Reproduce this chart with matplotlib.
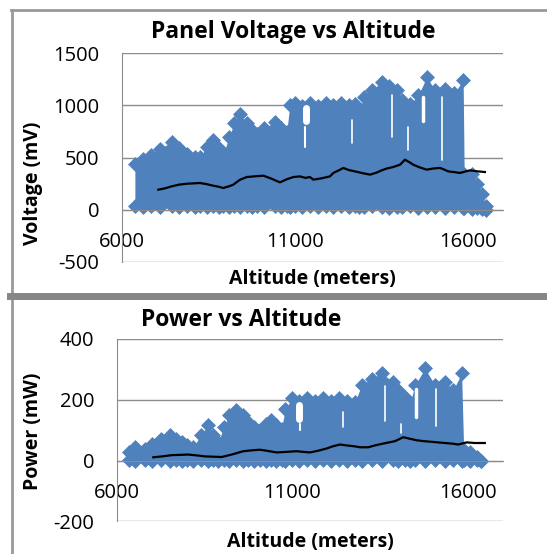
import numpy as np
import matplotlib.pyplot as plt
from matplotlib.lines import Line2D

plt.rcParams['font.family'] = ['Open Sans', 'DejaVu Sans']
plt.rcParams['axes.unicode_minus'] = False

BLUE = '#4f81bd'
GRID = '#8c8c8c'

# voltage scatter, read as the outline of the point cloud (marker centres)
v_alt = [6380, 6620, 6850, 7100, 7440, 7650, 7880, 8100, 8260, 8450, 8640, 8800, 8930,
         9100, 9250, 9410, 9600, 9750, 9900, 10100, 10420, 10600, 10760, 10850, 11000,
         11200, 11430, 11650, 11880, 12100, 12330, 12560, 12730, 12850, 13000, 13210,
         13500, 13700, 13930, 14080, 14320, 14555, 14800, 15040, 15330, 15600, 15850,
         15880, 16100, 16250, 16400, 16500]
v_hi = [440, 485, 520, 585, 647, 590, 530, 505, 505, 600, 663, 590, 530, 700, 830, 918,
        830, 760, 727, 780, 840, 780, 745, 1000, 1020, 995, 1020, 995, 1020, 1000, 1020,
        1000, 1010, 960, 1080, 1143, 1222, 1180, 1143, 1047, 1010, 1095, 1270, 1143, 1158,
        1120, 1239, 343, 343, 250, 150, 40]
v_lo = [40, 30, 35, 30, 40, 30, 35, 30, 40, 30, 35, 30, 35, 30, 40, 30, 35, 30, 40, 30,
        35, 30, 40, 30, 35, 30, 40, 25, 35, 30, 40, 30, 35, 30, 25, 35, 30, 20, 30, 25,
        35, 20, 30, 25, 20, 30, 15, 20, 10, 15, 5, 0]

# empty stretches inside the voltage cloud (altitude, from, to)
v_gap_alt = [11330, 11300, 12630, 13790, 14260, 14690, 15230]
v_gap_lo = [850, 600, 640, 700, 575, 845, 480]
v_gap_hi = [975, 790, 860, 1100, 790, 1075, 1075]
v_gap_w = [5, 1.5, 1.2, 1.2, 1.2, 2.5, 1.2]

# voltage moving average
v_avg_alt = [7056, 7250, 7442, 7650, 7875, 8050, 8258, 8450, 8642, 8800, 8930, 9100, 9219,
             9400, 9604, 9850, 10085, 10300, 10566, 10750, 10950, 11143, 11300, 11431,
             11527, 11750, 12008, 12103, 12250, 12392, 12550, 12730, 12950, 13162, 13350,
             13499, 13650, 13834, 14027, 14171, 14300, 14411, 14600, 14797, 15000, 15181,
             15300, 15421, 15600, 15758, 15900, 16046, 16250, 16478]
v_avg = [192, 205, 224, 240, 249, 252, 256, 245, 230, 220, 208, 225, 240, 285, 313, 320,
         326, 300, 262, 290, 313, 319, 305, 313, 288, 300, 319, 352, 375, 400, 380, 367,
         350, 336, 355, 377, 395, 409, 431, 479, 455, 431, 405, 384, 395, 400, 385, 367,
         360, 352, 365, 377, 368, 361]

# power scatter outline
p_alt = [6360, 6520, 6800, 7000, 7250, 7514, 7700, 7851, 8000, 8181, 8400, 8608, 8750,
         8893, 9050, 9200, 9400, 9600, 9744, 9900, 10075, 10250, 10408, 10550, 10693,
         10800, 11000, 11200, 11430, 11650, 11880, 12100, 12330, 12560, 12784, 12974,
         13259, 13544, 13874, 14017, 14200, 14350, 14492, 14777, 15062, 15347, 15583,
         15821, 15880, 16060, 16250, 16370]
p_hi = [28, 44, 39, 55, 70, 83, 70, 61, 50, 44, 85, 118, 85, 61, 110, 150, 168, 150, 127,
        110, 100, 120, 133, 118, 105, 170, 205, 195, 205, 195, 205, 195, 205, 195, 193,
        248, 270, 287, 259, 232, 210, 188, 248, 303, 248, 259, 232, 287, 35, 28, 12, 0]
p_lo = [3, 0, 2, 0, 3, 0, 2, 0, 3, 0, 2, 0, 3, 0, 2, 0, 3, 0, 2, 0, 3, 0, 2, 0, 3, 0,
        2, 0, 3, 0, 2, 0, 3, 0, 2, 0, 3, 0, 2, 0, 3, 0, 2, 0, 3, 0, 2, 0, 2, 0, 1, 0]

# empty stretches inside the power cloud
p_gap_alt = [11200, 11230, 12450, 13640, 14100, 14530, 15080]
p_gap_lo = [138, 100, 110, 130, 90, 145, 115]
p_gap_hi = [182, 120, 160, 245, 120, 235, 235]
p_gap_w = [5, 1.5, 1.2, 1.2, 1.2, 2.5, 1.2]

# power moving average
p_avg_alt = [7043, 7300, 7566, 7800, 8040, 8300, 8514, 8750, 8989, 9273, 9450, 9606, 9850,
             10080, 10300, 10555, 10850, 11124, 11300, 11504, 11750, 11978, 12150, 12357,
             12550, 12784, 12927, 13164, 13350, 13544, 13750, 13922, 14159, 14350, 14540,
             14750, 14966, 15150, 15347, 15550, 15726, 15963, 16200, 16481]
p_avg = [11, 14, 18, 19, 20, 17, 14, 13, 12, 20, 26, 31, 34, 36, 32, 27, 29, 31, 29, 27,
         33, 40, 47, 53, 50, 47, 44, 44, 50, 55, 60, 64, 77, 72, 67, 64, 62, 60, 58, 56,
         53, 60, 58, 58]

x_ticks = [6000, 11000, 16000]


def draw_panel(ax, alt, hi, lo, gap_alt, gap_lo, gap_hi, gap_w, avg_alt, avg, ylim, yticks):
    ax.fill_between(alt, lo, hi, color=BLUE, lw=0, zorder=2)
    ax.scatter(alt, hi, marker='D', s=58, color=BLUE, lw=0, zorder=2)
    ax.scatter(alt, lo, marker='D', s=58, color=BLUE, lw=0, zorder=2)
    for a, g0, g1, w in zip(gap_alt, gap_lo, gap_hi, gap_w):
        ax.plot([a, a], [g0, g1], color='white', lw=w, solid_capstyle='round', zorder=2.5)
    ax.plot(avg_alt, avg, color='black', lw=1.6, zorder=3)

    ax.set_xlim(6000, 17000)
    ax.set_ylim(*ylim)
    ax.set_xticks(x_ticks)
    ax.set_yticks(yticks)
    ax.grid(axis='y', color=GRID, lw=1)
    ax.set_axisbelow(True)
    for side in ['top', 'right']:
        ax.spines[side].set_visible(False)
    ax.spines['bottom'].set_position(('data', 0))
    ax.spines['left'].set_color(GRID)
    ax.spines['bottom'].set_color(GRID)
    ax.tick_params(length=0, labelsize=14.5, pad=16)


fig = plt.figure(figsize=(5.47, 5.54), dpi=100)

ax1 = fig.add_axes([0.2225, 0.5271, 0.6971, 0.3772])
draw_panel(ax1, v_alt, v_hi, v_lo, v_gap_alt, v_gap_lo, v_gap_hi, v_gap_w,
           v_avg_alt, v_avg, (-500, 1500), [-500, 0, 500, 1000, 1500])

ax2 = fig.add_axes([0.2133, 0.0587, 0.7063, 0.3294])
draw_panel(ax2, p_alt, p_hi, p_lo, p_gap_alt, p_gap_lo, p_gap_hi, p_gap_w,
           p_avg_alt, p_avg, (-200, 400), [-200, 0, 200, 400])

fig.text(0.5356, 0.9422, 'Panel Voltage vs Altitude', ha='center', va='center',
         fontsize=16.5, fontweight='bold')
fig.text(0.0603, 0.6697, 'Voltage (mV)', ha='center', va='center', rotation=90,
         fontsize=14, fontweight='bold')
fig.text(0.5704, 0.4964, 'Altitude (meters)', ha='center', va='center',
         fontsize=14, fontweight='bold')

fig.text(0.4406, 0.4224, 'Power vs Altitude', ha='center', va='center',
         fontsize=16.5, fontweight='bold')
fig.text(0.0603, 0.222, 'Power (mW)', ha='center', va='center', rotation=90,
         fontsize=14, fontweight='bold')
fig.text(0.5667, 0.0217, 'Altitude (meters)', ha='center', va='center',
         fontsize=14, fontweight='bold')

# chart area borders
W, H = 547, 554
border = '#999999'
fig.add_artist(Line2D([11 / W, 1], [1 - 10 / H, 1 - 10 / H], color=border, lw=2))
fig.add_artist(Line2D([11.5 / W, 11.5 / W], [1 - 10 / H, 1 - 296 / H], color=border, lw=2))
fig.add_artist(Line2D([11.5 / W, 11.5 / W], [1 - 297 / H, 0], color=border, lw=2))
fig.add_artist(Line2D([10 / W, 1], [1 - 296.5 / H, 1 - 296.5 / H], color='#868686', lw=5))

fig.savefig('out.png', dpi=100)
